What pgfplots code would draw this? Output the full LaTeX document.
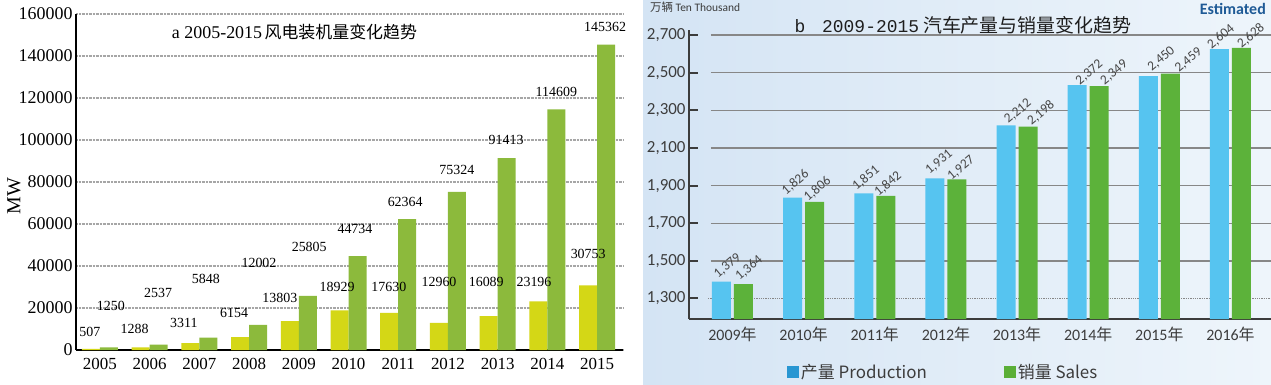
\documentclass[border=0pt]{standalone}
\usepackage{fontspec}
\usepackage{pgfplots}
\pgfplotsset{compat=1.18}
\setmainfont{Liberation Serif}
\newfontfamily\carlito{Carlito}
\newfontfamily\cjk{Noto Sans CJK SC}
\newfontfamily\mono{Liberation Mono}
\newcommand{\fs}[1]{\fontsize{#1}{#1}\selectfont}
\definecolor{barY}{RGB}{212,215,22}
\definecolor{barG}{RGB}{140,186,60}
\definecolor{barB}{RGB}{86,196,240}
\definecolor{barGr}{RGB}{92,178,58}
\definecolor{legB}{RGB}{40,150,210}
\definecolor{legG}{RGB}{90,175,55}
\definecolor{axisgray}{RGB}{60,60,60}
\definecolor{gridgray}{RGB}{135,135,135}
\definecolor{labgray}{RGB}{70,70,70}
\definecolor{bgL}{RGB}{212,228,244}
\definecolor{bgR}{RGB}{238,245,251}
\definecolor{estblue}{RGB}{30,90,150}
\definecolor{titlegray}{RGB}{30,30,30}
\begin{document}
\begin{tikzpicture}[x=1bp,y=1bp]
\path[use as bounding box] (0,0) rectangle (1271,384);
\fill[white] (0,0) rectangle (640,384);
\shade[left color=bgL,right color=bgR] (643,0) rectangle (1271,384);

% ---------------- left panel ----------------
\begin{axis}[
  at={(76bp,34bp)}, anchor=south west, scale only axis,
  width=547bp, height=336bp,
  xmin=-0.48, xmax=10.52, ymin=0, ymax=160000,
  axis x line*=bottom, axis y line*=left,
  axis line style={-, black, line width=1.5bp},
  xtick={0,...,10},
  xticklabels={2005,2006,2007,2008,2009,2010,2011,2012,2013,2014,2015},
  ytick={0,20000,...,160000},
  scaled y ticks=false,
  major tick length=0pt,
  ymajorgrids, grid style={densely dotted, black!35, line width=1.2bp},
  xticklabel style={font=\fs{17}, yshift=-5bp},
  yticklabel style={font=\fs{18}, /pgf/number format/fixed, /pgf/number format/1000 sep={}, /pgf/number format/assume math mode=true},
]
\addplot[ybar, bar width=18bp, bar shift=-9bp, fill=barY, draw=none] coordinates {
  (0,507) (1,1288) (2,3311) (3,6154) (4,13803) (5,18929) (6,17630) (7,12960) (8,16089) (9,23196) (10,30753)};
\addplot[ybar, bar width=18bp, bar shift=9bp, fill=barG, draw=none] coordinates {
  (0,1250) (1,2537) (2,5848) (3,12002) (4,25805) (5,44734) (6,62364) (7,75324) (8,91413) (9,114609) (10,145362)};
\addplot[draw=none, mark=none, nodes near coords, point meta=explicit symbolic,
  nodes near coords align={anchor=center},
  nodes near coords style={anchor=center, font=\fs{14}, inner sep=0pt, text=black}]
  table[meta=label] {
x y label
-0.20 8570 507
0.22 20950 1250
0.70 10000 1288
1.17 27140 2537
1.69 12860 3311
2.13 33810 5848
2.70 17620 6154
3.20 41430 12002
3.62 24760 13803
4.21 49050 25805
4.77 30000 18929
5.13 57620 44734
5.81 30000 17630
6.14 70480 62364
6.82 32380 12960
7.18 85710 75324
7.77 32380 16089
8.17 100000 91413
8.73 32380 23196
9.18 122860 114609
9.82 45710 30753
10.16 153810 145362
};
\end{axis}
\node[font=\fs{20}, rotate=90] at (14,188) {MW};
\node at (294.5,352) {{\fs{18}a 2005-2015} {\cjk\fs{17}风电装机量变化趋势}};

% ---------------- right panel ----------------
\begin{axis}[
  at={(689bp,65bp)}, anchor=south west, scale only axis,
  width=582bp, height=289bp,
  xmin=-0.611, xmax=7.57, ymin=1191, ymax=2727,
  axis x line*=bottom, axis y line*=left,
  x axis line style={-, axisgray, line width=2bp},
  y axis line style={-, axisgray, line width=2.5bp},
  xtick={0,...,7},
  xticklabels={2009\cjk{年},2010\cjk{年},2011\cjk{年},2012\cjk{年},2013\cjk{年},2014\cjk{年},2015\cjk{年},2016\cjk{年}},
  xtick style={draw=none},
  ytick={1300,1500,...,2700},
  tick align=inside, major tick length=9bp,
  ytick style={axisgray, line width=2bp},
  yticklabel style={font=\carlito\fs{17}, text=axisgray, /pgf/number format/fixed, /pgf/number format/1000 sep={,}, /pgf/number format/assume math mode=true},
  xticklabel style={font=\carlito\fs{16}, text=axisgray, yshift=-5bp},
  legend image code/.code={\fill[#1] (0bp,-6bp) rectangle (12bp,6bp);},
  legend style={at={(0.168,-0.1834)}, anchor=west, draw=none, fill=none,
    font=\carlito\fs{17}, text=axisgray, inner sep=0pt,
    /tikz/every even column/.append style={column sep=75bp}},
  legend columns=2, legend cell align=left,
]
\draw[gridgray, line width=1.3bp] (axis cs:-0.302,1500) -- (axis cs:7.57,1500);
\draw[gridgray, line width=1.3bp] (axis cs:-0.302,1700) -- (axis cs:7.57,1700);
\draw[gridgray, line width=1.3bp] (axis cs:-0.302,1900) -- (axis cs:7.57,1900);
\draw[gridgray, line width=1.3bp] (axis cs:-0.302,2100) -- (axis cs:7.57,2100);
\draw[gridgray, line width=1.3bp] (axis cs:-0.302,2300) -- (axis cs:7.57,2300);
\draw[gridgray, line width=1.3bp] (axis cs:-0.302,2500) -- (axis cs:7.57,2500);
\draw[gridgray, line width=1.3bp] (axis cs:-0.302,2700) -- (axis cs:7.57,2700);
\draw[gridgray, densely dotted, line width=1.3bp] (axis cs:-0.344,1300) -- (axis cs:7.57,1300);
\addlegendimage{fill=legB, draw=none}
\addlegendentry{\cjk{产量} Production}
\addlegendimage{fill=legG, draw=none}
\addlegendentry{\cjk{销量} Sales}
\addplot[forget plot, ybar, bar width=19bp, bar shift=-11bp, fill=barB, draw=none] coordinates {
  (0,1389) (1,1836) (2,1859) (3,1938) (4,2220) (5,2434) (6,2482) (7,2625)};
\addplot[forget plot, ybar, bar width=19bp, bar shift=11bp, fill=barGr, draw=none] coordinates {
  (0,1377) (1,1813) (2,1845) (3,1933) (4,2214) (5,2429) (6,2495) (7,2632)};
\addplot[forget plot, draw=none, mark=none, nodes near coords, point meta=explicit symbolic,
  nodes near coords align={anchor=center},
  nodes near coords style={anchor=center, rotate=40, font=\carlito\fs{13.5}, inner sep=0pt, text=labgray}]
  table[meta=label] {
x y label
-0.070 1473 1,379
0.232 1462 1,364
0.886 1916 1,826
1.195 1882 1,806
1.877 1940 1,851
2.186 1908 1,842
2.903 2025 1,931
3.212 1993 1,927
4.013 2294 2,212
4.337 2286 2,198
5.018 2501 2,372
5.363 2501 2,349
6.030 2573 2,450
6.410 2567 2,459
6.867 2691 2,604
7.289 2695 2,628
};
\end{axis}
\node[text=titlegray] at (963,359) {{\mono\fs{18}b\hspace{6bp} 2009-2015}\hspace{4bp}{\cjk\fs{19}汽车产量与销量变化趋势}};
\node[anchor=west, text=axisgray, inner sep=0pt] at (650,376.5) {\cjk\fs{11.5}万辆 \carlito Ten Thousand};
\node[anchor=east, inner sep=0pt, text=estblue] at (1266,375) {\carlito\bfseries\fs{16}Estimated};
\end{tikzpicture}
\end{document}
